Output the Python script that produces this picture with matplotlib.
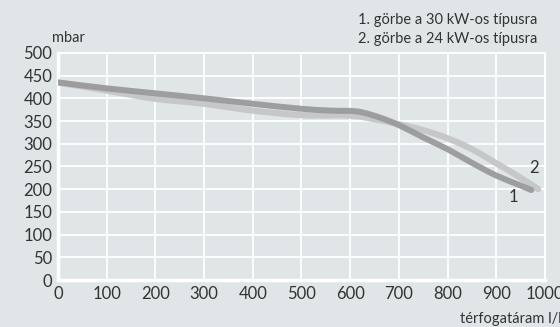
import matplotlib.pyplot as plt
from matplotlib.path import Path
from matplotlib.patches import PathPatch

# térfogatáram (l/h) és nyomás (mbar) a két görbéhez
q1 = [0, 100, 200, 300, 400, 500, 560, 615, 660, 700, 750, 800, 850, 900, 950, 972]
p1 = [435, 422, 411, 400, 388, 377, 373, 371, 358, 341, 314, 288, 258, 230, 208, 198]

q2 = [0, 100, 200, 300, 400, 500, 600, 650, 700, 750, 800, 850, 900, 950, 986]
p2 = [435, 417, 399, 388, 373, 363, 362, 354, 343, 330, 312, 288, 257, 225, 200]

xticks = list(range(0, 1001, 100))
yticks = list(range(0, 501, 50))

bg = '#e0e6e8'
txt = '#333333'
plt.rcParams['font.family'] = ['Lato', 'DejaVu Sans']


def smooth_path(xs, ys):
    # Catmull-Rom görbe Bezier szakaszokkal, a pontokon áthaladva
    pts = list(zip(xs, ys))
    verts = [pts[0]]
    codes = [Path.MOVETO]
    n = len(pts)
    for i in range(n - 1):
        p0 = pts[i - 1] if i > 0 else pts[i]
        p1 = pts[i]
        p2 = pts[i + 1]
        p3 = pts[i + 2] if i + 2 < n else pts[i + 1]
        c1 = (p1[0] + (p2[0] - p0[0]) / 6, p1[1] + (p2[1] - p0[1]) / 6)
        c2 = (p2[0] - (p3[0] - p1[0]) / 6, p2[1] - (p3[1] - p1[1]) / 6)
        verts += [c1, c2, p2]
        codes += [Path.CURVE4] * 3
    return Path(verts, codes)


fig = plt.figure(figsize=(5.6, 3.27), dpi=100, facecolor=bg)
ax = fig.add_axes([0.1036, 0.1437, 0.8695, 0.6945], facecolor=bg)

ax.add_patch(PathPatch(smooth_path(q2, p2), fill=False, edgecolor='#c6c7c8', lw=4.5,
                       capstyle='round', joinstyle='round', zorder=3))
ax.add_patch(PathPatch(smooth_path(q1, p1), fill=False, edgecolor='#9a9a9b', lw=4.3,
                       capstyle='round', joinstyle='round', zorder=4, alpha=0.95))

ax.set_xlim(0, 1000)
ax.set_ylim(0, 500)
ax.set_xticks(xticks)
ax.set_yticks(yticks)
ax.grid(True, color='white', lw=1.3)
ax.set_axisbelow(True)
for s in ax.spines.values():
    s.set_color('white')
    s.set_linewidth(1.5)
ax.spines['left'].set_linewidth(2.5)
ax.spines['bottom'].set_linewidth(2.5)
ax.tick_params(length=0, labelsize=12, colors=txt, pad=4)

ax.text(936, 183, '1', fontsize=12, color=txt, ha='center', va='center')
ax.text(977, 247, '2', fontsize=12, color=txt, ha='center', va='center')

fig.text(52 / 560, 1 - 38 / 327, 'mbar', fontsize=10.5, color=txt, ha='left', va='center')
fig.text(537 / 560, 1 - 20 / 327, '1. görbe a 30 kW-os típusra', fontsize=10.5, color=txt, ha='right', va='center')
fig.text(537 / 560, 1 - 39 / 327, '2. görbe a 24 kW-os típusra', fontsize=10.5, color=txt, ha='right', va='center')
fig.text(460 / 560, 1 - 319 / 327, 'térfogatáram l/h', fontsize=10.5, color=txt, ha='left', va='center')

fig.savefig('out.png', dpi=100, facecolor=bg)
